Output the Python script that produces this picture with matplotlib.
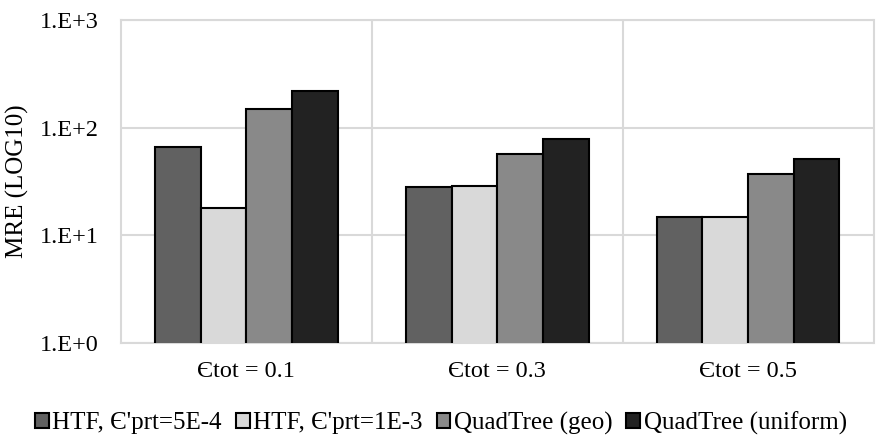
import matplotlib
matplotlib.use("Agg")
import matplotlib.pyplot as plt
import numpy as np
from matplotlib.ticker import FixedLocator, NullLocator

plt.rcParams['font.family'] = ['Liberation Serif', 'DejaVu Serif']

categories = ["Єtot = 0.1", "Єtot = 0.3", "Єtot = 0.5"]
series_names = ["HTF, Є'prt=5E-4", "HTF, Є'prt=1E-3", "QuadTree (geo)", "QuadTree (uniform)"]
htf_5e4 = [66.3, 28.2, 14.7]
htf_1e3 = [18.0, 28.8, 14.7]
qt_geo = [148.5, 56.4, 37.2]
qt_uniform = [219.8, 78.2, 51.3]
series_values = [htf_5e4, htf_1e3, qt_geo, qt_uniform]
colors = ["#616161", "#d9d9d9", "#898989", "#222222"]
yticks = [1, 10, 100, 1000]
ytick_labels = ["1.E+0", "1.E+1", "1.E+2", "1.E+3"]

fig = plt.figure(figsize=(8.82, 4.42), dpi=100)
ax = fig.add_axes([121/882, 1-342.7/442, 752.5/882, 322.7/442])

x = np.arange(len(categories))
w = 0.182
for i, (name, vals, c) in enumerate(zip(series_names, series_values, colors)):
    ax.bar(x + (i - 1.5) * w, vals, width=w, color=c, edgecolor="black",
           linewidth=1.5, label=name, zorder=3)

ax.set_yscale("log")
ax.set_ylim(1, 1000)
ax.set_xlim(-0.5, len(categories) - 0.5)
ax.yaxis.set_major_locator(FixedLocator(yticks))
ax.yaxis.set_minor_locator(NullLocator())
ax.set_yticklabels(ytick_labels)
ax.set_xticks(x)
ax.set_xticklabels(categories)
ax.xaxis.set_minor_locator(FixedLocator([0.5, 1.5]))
ax.tick_params(axis="both", which="both", length=0, labelsize=17.5)
ax.tick_params(axis="y", pad=16)
ax.tick_params(axis="x", pad=13)
ax.grid(True, axis="y", which="major", color="#d9d9d9", linewidth=1.5, zorder=0)
ax.grid(True, axis="x", which="minor", color="#d9d9d9", linewidth=1.5, zorder=0)
for s in ax.spines.values():
    s.set_color("#d9d9d9")
    s.set_linewidth(1.5)
ax.set_ylabel("MRE (LOG10)", fontsize=18, labelpad=8)

handles, labels = ax.get_legend_handles_labels()
fig.legend(handles, labels, loc="center", bbox_to_anchor=(0.5, 1-423/442), ncol=4,
           frameon=False, fontsize=18, handlelength=0.55, handleheight=0.55,
           handletextpad=0.15, columnspacing=0.55, borderaxespad=0)

fig.savefig("out.png", dpi=100)
